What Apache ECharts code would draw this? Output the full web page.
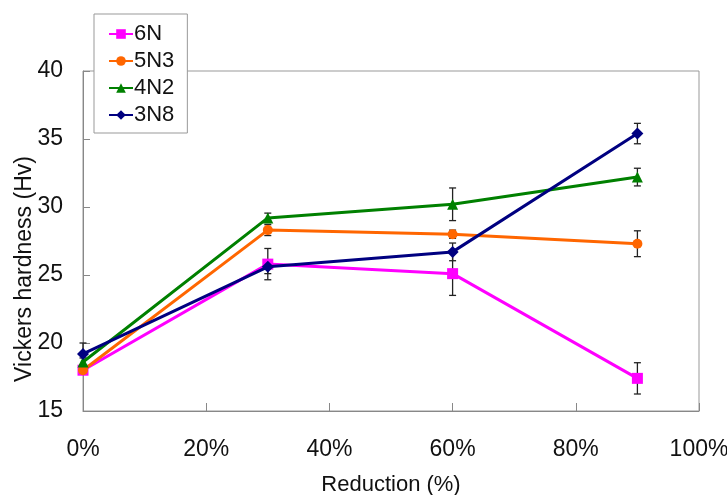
<!DOCTYPE html>
<html>
<head>
<meta charset="utf-8">
<script src="https://cdn.jsdelivr.net/npm/echarts@6/dist/echarts.min.js"></script>
<style>
html,body{margin:0;padding:0;background:#fff;}
#chart{width:727px;height:495px;}
</style>
</head>
<body>
<div id="chart"></div>
<script>
// Data
const reduction = [0, 30, 60, 90];            // x values (%)
const seriesNames = ['6N', '5N3', '4N2', '3N8'];
const hv6N  = [18.0, 25.8, 25.1, 17.4];
const hv5N3 = [18.0, 28.3, 28.0, 27.3];
const hv4N2 = [18.6, 29.2, 30.2, 32.2];
const hv3N8 = [19.2, 25.6, 26.7, 35.4];
const err6N  = [0.3, 1.15, 1.6, 1.15];
const err5N3 = [0.3, 0.4, 0.3, 0.95];
const err4N2 = [0.3, 0.35, 1.2, 0.65];
const err3N8 = [0.8, 0.5, 0.65, 0.75];
const yTicks = [15, 20, 25, 30, 35, 40];
const xTicks = [0, 20, 40, 60, 80, 100];

const values = [hv6N, hv5N3, hv4N2, hv3N8];
const errors = [err6N, err5N3, err4N2, err3N8];
const colors = ['#FF00FF', '#FF6600', '#008000', '#000080'];
const symbols = ['rect', 'circle', 'triangle', 'diamond'];
const symbolSizes = [11, 10, 11, 12];

const FONT = '"Liberation Sans", Arial, sans-serif';

const chart = echarts.init(document.getElementById('chart'), null, {renderer: 'canvas'});

const errSeries = values.map((vals, si) => ({
  type: 'custom',
  name: seriesNames[si] + '-err',
  z: 1,
  silent: true,
  data: reduction.map((x, i) => [x, vals[i] - errors[si][i], vals[i] + errors[si][i]]),
  renderItem: function (params, api) {
    const lo = api.coord([api.value(0), api.value(1)]);
    const hi = api.coord([api.value(0), api.value(2)]);
    const hw = 3.5;
    const st = {stroke: '#222', lineWidth: 1.3};
    return {
      type: 'group',
      children: [
        {type: 'line', shape: {x1: lo[0], y1: lo[1], x2: hi[0], y2: hi[1]}, style: st},
        {type: 'line', shape: {x1: lo[0] - hw, y1: lo[1], x2: lo[0] + hw, y2: lo[1]}, style: st},
        {type: 'line', shape: {x1: hi[0] - hw, y1: hi[1], x2: hi[0] + hw, y2: hi[1]}, style: st}
      ]
    };
  }
}));

const lineSeries = values.map((vals, si) => ({
  type: 'line',
  name: seriesNames[si],
  z: 2 + si,
  data: reduction.map((x, i) => [x, vals[i]]),
  symbol: symbols[si],
  symbolSize: symbolSizes[si],
  showAllSymbol: true,
  lineStyle: {color: colors[si], width: 3},
  itemStyle: {color: colors[si]},
  animation: false
}));

const option = {
  animation: false,
  backgroundColor: '#fff',
  grid: {
    left: 83, right: 28, top: 71, bottom: 84,
    outerBoundsMode: 'none', containLabel: false,
    show: true, borderColor: '#999', borderWidth: 1, backgroundColor: 'transparent'
  },
  legend: {
    data: seriesNames,
    orient: 'vertical',
    left: 94, top: 14,
    backgroundColor: '#fff',
    borderColor: '#999', borderWidth: 1,
    padding: [9, 13, 7, 14],
    itemGap: 5,
    itemWidth: 24, itemHeight: 12,
    textStyle: {fontFamily: FONT, fontSize: 22, color: '#111', padding: [0, 0, 0, -4]}
  },
  xAxis: {
    type: 'value', min: 0, max: 100, interval: 20,
    name: 'Reduction (%)', nameLocation: 'middle', nameGap: 63,
    nameMoveOverlap: false,
    nameTextStyle: {fontFamily: FONT, fontSize: 22, color: '#111'},
    axisLine: {show: true, lineStyle: {color: '#888', width: 1}},
    axisTick: {show: true, inside: true, length: 8, lineStyle: {color: '#888'}},
    axisLabel: {fontFamily: FONT, fontSize: 23, color: '#111', margin: 27,
      formatter: v => (xTicks.indexOf(v) >= 0 ? v + '%' : '')},
    splitLine: {show: false}
  },
  yAxis: {
    type: 'value', min: yTicks[0], max: yTicks[yTicks.length - 1], interval: 5,
    name: 'Vickers hardness (Hv)', nameLocation: 'middle', nameGap: 47,
    nameMoveOverlap: false,
    nameTextStyle: {fontFamily: FONT, fontSize: 23, color: '#111', padding: [0, 56, 0, 0]},
    axisLine: {show: true, lineStyle: {color: '#888', width: 1}},
    axisTick: {show: true, inside: true, length: 7, lineStyle: {color: '#888'}},
    axisLabel: {fontFamily: FONT, fontSize: 23, color: '#111', margin: 20},
    splitLine: {show: false}
  },
  series: errSeries.concat(lineSeries)
};
chart.setOption(option);
</script>
</body>
</html>
